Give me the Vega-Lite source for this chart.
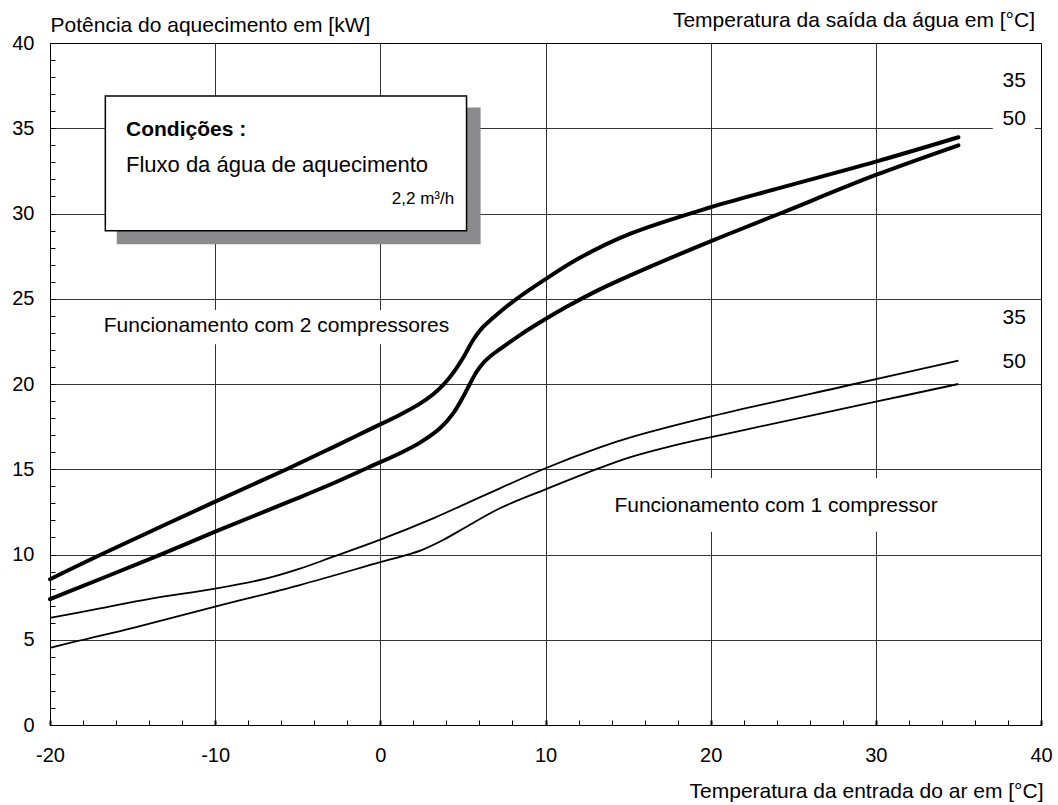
{
  "$schema": "https://vega.github.io/schema/vega-lite/v6.json",
  "width": 991,
  "height": 682,
  "autosize": {"type": "none"},
  "padding": {"left": 50, "top": 43, "right": 17, "bottom": 80},
  "background": "white",
  "config": {
    "view": {"stroke": "black", "strokeWidth": 1},
    "font": "Liberation Sans",
    "text": {"font": "Liberation Sans", "color": "black"}
  },
  "title": {
    "text": "Temperatura da saída da água em [°C]",
    "anchor": "end",
    "frame": "group",
    "font": "Liberation Sans",
    "fontSize": 21,
    "fontWeight": "normal",
    "color": "black",
    "baseline": "alphabetic",
    "offset": 18,
    "dx": -6,
    "dy": 52
  },
  "datasets": {
    "curves": [
      {"series": "2c35", "comp": 2, "x": -20, "y": 8.55},
      {"series": "2c35", "comp": 2, "x": -16.97, "y": 9.97},
      {"series": "2c35", "comp": 2, "x": -10, "y": 13.1},
      {"series": "2c35", "comp": 2, "x": -5.67, "y": 15.0},
      {"series": "2c35", "comp": 2, "x": -2.85, "y": 16.3},
      {"series": "2c35", "comp": 2, "x": -0.83, "y": 17.25},
      {"series": "2c35", "comp": 2, "x": 1.19, "y": 18.2},
      {"series": "2c35", "comp": 2, "x": 2.4, "y": 18.85},
      {"series": "2c35", "comp": 2, "x": 3.2, "y": 19.4},
      {"series": "2c35", "comp": 2, "x": 3.81, "y": 19.95},
      {"series": "2c35", "comp": 2, "x": 4.41, "y": 20.65},
      {"series": "2c35", "comp": 2, "x": 5.02, "y": 21.55},
      {"series": "2c35", "comp": 2, "x": 5.6, "y": 22.55},
      {"series": "2c35", "comp": 2, "x": 6.13, "y": 23.25},
      {"series": "2c35", "comp": 2, "x": 6.83, "y": 23.88},
      {"series": "2c35", "comp": 2, "x": 8.05, "y": 24.85},
      {"series": "2c35", "comp": 2, "x": 10.0, "y": 26.15},
      {"series": "2c35", "comp": 2, "x": 12.08, "y": 27.4},
      {"series": "2c35", "comp": 2, "x": 15.1, "y": 28.8},
      {"series": "2c35", "comp": 2, "x": 19.95, "y": 30.35},
      {"series": "2c35", "comp": 2, "x": 24.2, "y": 31.5},
      {"series": "2c35", "comp": 2, "x": 30, "y": 33.04},
      {"series": "2c35", "comp": 2, "x": 35, "y": 34.47},
      {"series": "2c50", "comp": 2, "x": -20, "y": 7.38},
      {"series": "2c50", "comp": 2, "x": -13.34, "y": 9.98},
      {"series": "2c50", "comp": 2, "x": -10, "y": 11.34},
      {"series": "2c50", "comp": 2, "x": -5.27, "y": 13.2},
      {"series": "2c50", "comp": 2, "x": -2.85, "y": 14.18},
      {"series": "2c50", "comp": 2, "x": -0.83, "y": 15.06},
      {"series": "2c50", "comp": 2, "x": 1.19, "y": 15.94},
      {"series": "2c50", "comp": 2, "x": 2.4, "y": 16.56},
      {"series": "2c50", "comp": 2, "x": 3.61, "y": 17.4},
      {"series": "2c50", "comp": 2, "x": 4.41, "y": 18.28},
      {"series": "2c50", "comp": 2, "x": 5.02, "y": 19.26},
      {"series": "2c50", "comp": 2, "x": 5.42, "y": 20.0},
      {"series": "2c50", "comp": 2, "x": 5.83, "y": 20.72},
      {"series": "2c50", "comp": 2, "x": 6.13, "y": 21.12},
      {"series": "2c50", "comp": 2, "x": 6.43, "y": 21.43},
      {"series": "2c50", "comp": 2, "x": 6.83, "y": 21.76},
      {"series": "2c50", "comp": 2, "x": 7.24, "y": 22.04},
      {"series": "2c50", "comp": 2, "x": 8.45, "y": 22.87},
      {"series": "2c50", "comp": 2, "x": 10.0, "y": 23.81},
      {"series": "2c50", "comp": 2, "x": 11.28, "y": 24.53},
      {"series": "2c50", "comp": 2, "x": 13.29, "y": 25.55},
      {"series": "2c50", "comp": 2, "x": 16.1, "y": 26.78},
      {"series": "2c50", "comp": 2, "x": 19.95, "y": 28.35},
      {"series": "2c50", "comp": 2, "x": 24.2, "y": 30.0},
      {"series": "2c50", "comp": 2, "x": 30, "y": 32.26},
      {"series": "2c50", "comp": 2, "x": 35, "y": 34.0},
      {"series": "1c35", "comp": 1, "x": -20, "y": 6.28},
      {"series": "1c35", "comp": 1, "x": -16.97, "y": 6.84},
      {"series": "1c35", "comp": 1, "x": -13.95, "y": 7.4},
      {"series": "1c35", "comp": 1, "x": -10, "y": 8.0},
      {"series": "1c35", "comp": 1, "x": -6.88, "y": 8.6},
      {"series": "1c35", "comp": 1, "x": -4.87, "y": 9.17},
      {"series": "1c35", "comp": 1, "x": -2.85, "y": 9.87},
      {"series": "1c35", "comp": 1, "x": 0, "y": 10.87},
      {"series": "1c35", "comp": 1, "x": 3.2, "y": 12.12},
      {"series": "1c35", "comp": 1, "x": 5.22, "y": 13.0},
      {"series": "1c35", "comp": 1, "x": 7.24, "y": 13.88},
      {"series": "1c35", "comp": 1, "x": 10, "y": 15.06},
      {"series": "1c35", "comp": 1, "x": 13.29, "y": 16.28},
      {"series": "1c35", "comp": 1, "x": 15.1, "y": 16.85},
      {"series": "1c35", "comp": 1, "x": 19.95, "y": 18.08},
      {"series": "1c35", "comp": 1, "x": 28.7, "y": 20.0},
      {"series": "1c35", "comp": 1, "x": 35, "y": 21.37},
      {"series": "1c50", "comp": 1, "x": -20, "y": 4.53},
      {"series": "1c50", "comp": 1, "x": -18, "y": 5.0},
      {"series": "1c50", "comp": 1, "x": -14.96, "y": 5.7},
      {"series": "1c50", "comp": 1, "x": -10, "y": 6.94},
      {"series": "1c50", "comp": 1, "x": -4.87, "y": 8.21},
      {"series": "1c50", "comp": 1, "x": 0, "y": 9.55},
      {"series": "1c50", "comp": 1, "x": 1.25, "y": 9.88},
      {"series": "1c50", "comp": 1, "x": 2.5, "y": 10.26},
      {"series": "1c50", "comp": 1, "x": 3.8, "y": 10.85},
      {"series": "1c50", "comp": 1, "x": 5.22, "y": 11.63},
      {"series": "1c50", "comp": 1, "x": 7.24, "y": 12.71},
      {"series": "1c50", "comp": 1, "x": 10, "y": 13.82},
      {"series": "1c50", "comp": 1, "x": 13.29, "y": 15.08},
      {"series": "1c50", "comp": 1, "x": 15.1, "y": 15.7},
      {"series": "1c50", "comp": 1, "x": 17.5, "y": 16.33},
      {"series": "1c50", "comp": 1, "x": 19.95, "y": 16.87},
      {"series": "1c50", "comp": 1, "x": 22, "y": 17.3},
      {"series": "1c50", "comp": 1, "x": 30, "y": 18.96},
      {"series": "1c50", "comp": 1, "x": 35, "y": 20.0}
    ],
    "rects": [
      {"role": "bg", "x": -17.3, "x2": 4.7, "y": 22.33, "y2": 24.34},
      {"role": "bg", "x": 13.6, "x2": 34.4, "y": 11.34, "y2": 14.49},
      {"role": "bg", "x": 37.08, "x2": 39.62, "y": 34.75, "y2": 36.2},
      {"role": "shadow", "x": -15.96, "x2": 6.07, "y": 28.19, "y2": 36.21},
      {"role": "box", "x": -16.65, "x2": 5.22, "y": 28.99, "y2": 36.89}
    ],
    "labels": [
      {"role": "center", "x": -6.29, "y": 23.07, "text": "Funcionamento com 2 compressores"},
      {"role": "center", "x": 23.96, "y": 12.51, "text": "Funcionamento com 1 compressor"},
      {"role": "side", "x": 37.67, "y": 37.4, "text": "35"},
      {"role": "side", "x": 37.67, "y": 35.17, "text": "50"},
      {"role": "side", "x": 37.67, "y": 23.52, "text": "35"},
      {"role": "side", "x": 37.67, "y": 20.92, "text": "50"},
      {"role": "boxhead", "x": -15.4, "y": 34.56, "text": "Condições :"},
      {"role": "boxbody", "x": -15.4, "y": 32.42, "text": "Fluxo da água de aquecimento"},
      {"role": "boxunit", "x": 4.47, "y": 30.54, "text": "2,2 m³/h"}
    ]
  },
  "encoding": {
    "x": {
      "field": "x",
      "type": "quantitative",
      "scale": {"domain": [-20, 40], "nice": false, "zero": false},
      "axis": {
        "values": [-20, -18, -16, -14, -12, -10, -8, -6, -4, -2, 0, 2, 4, 6, 8, 10, 12, 14, 16, 18, 20, 22, 24, 26, 28, 30, 32, 34, 36, 38, 40],
        "labelExpr": "datum.value % 10 === 0 ? ('' + datum.value) : ''",
        "labelFlush": false,
        "labelOverlap": false,
        "labelBound": false,
        "labelFont": "Liberation Sans",
        "labelFontSize": 20,
        "labelColor": "black",
        "labelPadding": 25,
        "grid": true,
        "gridColor": "#333333",
        "gridWidth": 1,
        "gridOpacity": {"condition": {"test": "datum.value % 10 === 0 && datum.value > -20 && datum.value < 40", "value": 1}, "value": 0},
        "ticks": true,
        "tickSize": -5,
        "tickColor": "black",
        "tickWidth": {"condition": {"test": "datum.value % 10 === 0", "value": 2}, "value": 1},
        "domainColor": "black",
        "domainWidth": 1,
        "title": "Temperatura da entrada do ar em [°C]",
        "titleFont": "Liberation Sans",
        "titleFontSize": 21,
        "titleFontWeight": "normal",
        "titleColor": "black",
        "titleX": 993,
        "titleY": 72,
        "titleAlign": "right",
        "titleBaseline": "alphabetic"
      }
    },
    "y": {
      "field": "y",
      "type": "quantitative",
      "scale": {"domain": [0, 40], "nice": false, "zero": false},
      "axis": {
        "values": [0, 1, 2, 3, 4, 5, 6, 7, 8, 9, 10, 11, 12, 13, 14, 15, 16, 17, 18, 19, 20, 21, 22, 23, 24, 25, 26, 27, 28, 29, 30, 31, 32, 33, 34, 35, 36, 37, 38, 39, 40],
        "labelExpr": "datum.value % 5 === 0 ? ('' + datum.value) : ''",
        "labelFlush": false,
        "labelOverlap": false,
        "labelBound": false,
        "labelFont": "Liberation Sans",
        "labelFontSize": 20,
        "labelColor": "black",
        "labelPadding": 21,
        "grid": true,
        "gridColor": "#333333",
        "gridWidth": 1,
        "gridOpacity": {"condition": {"test": "datum.value % 5 === 0 && datum.value > 0 && datum.value < 40", "value": 1}, "value": 0},
        "ticks": true,
        "tickSize": -5,
        "tickColor": "black",
        "tickWidth": 1,
        "domainColor": "black",
        "domainWidth": 1,
        "title": "Potência do aquecimento em [kW]",
        "titleFont": "Liberation Sans",
        "titleFontSize": 21,
        "titleFontWeight": "normal",
        "titleColor": "black",
        "titleAngle": 0,
        "titleX": 0,
        "titleY": -12,
        "titleAlign": "left",
        "titleBaseline": "alphabetic"
      }
    }
  },
  "layer": [
    {
      "data": {"name": "rects"},
      "transform": [{"filter": "datum.role === 'bg'"}],
      "mark": {"type": "rect", "fill": "white", "strokeWidth": 0},
      "encoding": {"x2": {"field": "x2"}, "y2": {"field": "y2"}}
    },
    {
      "data": {"name": "rects"},
      "transform": [{"filter": "datum.role === 'shadow'"}],
      "mark": {"type": "rect", "fill": "#8b8a8c", "strokeWidth": 0},
      "encoding": {"x2": {"field": "x2"}, "y2": {"field": "y2"}}
    },
    {
      "data": {"name": "rects"},
      "transform": [{"filter": "datum.role === 'box'"}],
      "mark": {"type": "rect", "fill": "white", "stroke": "black", "strokeWidth": 1.5},
      "encoding": {"x2": {"field": "x2"}, "y2": {"field": "y2"}}
    },
    {
      "data": {"name": "curves"},
      "transform": [{"filter": "datum.comp === 2"}],
      "mark": {"type": "line", "color": "black", "strokeWidth": 4, "interpolate": "catmull-rom", "strokeCap": "round", "strokeJoin": "round"},
      "encoding": {"detail": {"field": "series"}}
    },
    {
      "data": {"name": "curves"},
      "transform": [{"filter": "datum.comp === 1"}],
      "mark": {"type": "line", "color": "black", "strokeWidth": 1.8, "interpolate": "catmull-rom"},
      "encoding": {"detail": {"field": "series"}}
    },
    {
      "data": {"name": "labels"},
      "transform": [{"filter": "datum.role === 'center'"}],
      "mark": {"type": "text", "align": "center", "baseline": "alphabetic", "fontSize": 21, "font": "Liberation Sans", "color": "black"},
      "encoding": {"text": {"field": "text"}}
    },
    {
      "data": {"name": "labels"},
      "transform": [{"filter": "datum.role === 'side'"}],
      "mark": {"type": "text", "align": "left", "baseline": "alphabetic", "fontSize": 21, "font": "Liberation Sans", "color": "black"},
      "encoding": {"text": {"field": "text"}}
    },
    {
      "data": {"name": "labels"},
      "transform": [{"filter": "datum.role === 'boxhead'"}],
      "mark": {"type": "text", "align": "left", "baseline": "alphabetic", "fontSize": 21, "fontWeight": "bold", "font": "Liberation Sans", "color": "black"},
      "encoding": {"text": {"field": "text"}}
    },
    {
      "data": {"name": "labels"},
      "transform": [{"filter": "datum.role === 'boxbody'"}],
      "mark": {"type": "text", "align": "left", "baseline": "alphabetic", "fontSize": 22, "font": "Liberation Sans", "color": "black"},
      "encoding": {"text": {"field": "text"}}
    },
    {
      "data": {"name": "labels"},
      "transform": [{"filter": "datum.role === 'boxunit'"}],
      "mark": {"type": "text", "align": "right", "baseline": "alphabetic", "fontSize": 17, "font": "Liberation Sans", "color": "black"},
      "encoding": {"text": {"field": "text"}}
    }
  ]
}
